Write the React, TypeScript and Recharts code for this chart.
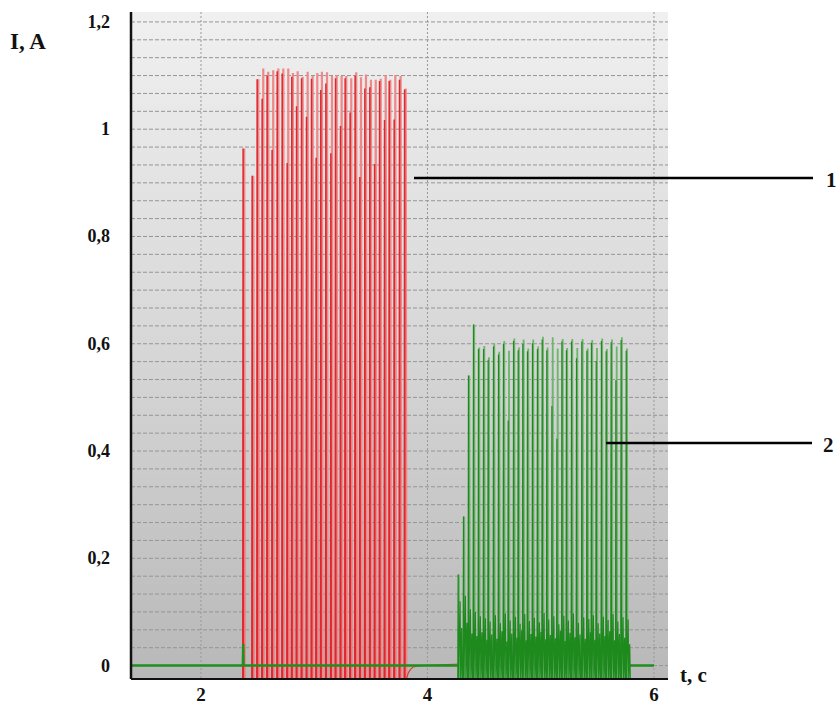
import { CartesianGrid, Line, LineChart, XAxis, YAxis } from "recharts";

// time (s) of each red pulse and its peak current (A)
const RED_T = [
  2.382, 2.462, 2.506, 2.55, 2.594, 2.638, 2.683, 2.727, 2.771, 2.812, 2.854, 2.898, 2.942, 2.986, 3.027, 3.068,
  3.113, 3.157, 3.198, 3.242, 3.283, 3.327, 3.371, 3.413, 3.457, 3.501, 3.543, 3.587, 3.631, 3.672, 3.716, 3.763,
  3.808,
];
const RED_PEAK = [
  0.964, 0.913, 1.093, 1.113, 1.107, 1.11, 1.113, 1.113, 1.113, 1.105, 1.108, 1.098, 1.107, 1.099, 1.105, 1.107,
  1.106, 1.099, 1.101, 1.099, 1.099, 1.095, 1.106, 1.097, 1.102, 1.092, 1.092, 1.094, 1.101, 1.092, 1.101, 1.099,
  1.076,
];
const RED_SUB = [
  0.964, 0.913, 1.093, 1.057, 1.1, 0.961, 1.108, 1.104, 0.937, 1.098, 1.043, 1.095, 1.023, 1.094, 0.947, 1.073,
  1.085, 0.955, 1.095, 1.006, 1.095, 1.031, 1.1, 0.911, 1.076, 1.078, 0.935, 1.09, 1.017, 1.09, 1.018, 1.092,
  1.074,
];
const RED_TAIL_T = [3.814, 3.83, 3.85, 3.87, 3.9, 3.95, 4.05, 4.3, 4.6, 4.9, 5.2, 5.5, 5.8];
const RED_TAIL_V = [-0.025, -0.014, -0.007, -0.003, -0.001, 0, 0.001, 0.003, 0.002, 0.004, 0.002, 0.003, 0.001];

// green pulses
const GREEN_T = [
  4.278, 4.325, 4.369, 4.413, 4.457, 4.502, 4.543, 4.59, 4.634, 4.678, 4.72, 4.767, 4.808, 4.849, 4.89, 4.934,
  4.978, 5.02, 5.061, 5.106, 5.15, 5.194, 5.234, 5.279, 5.323, 5.37, 5.415, 5.455, 5.497, 5.543, 5.585, 5.629,
  5.671, 5.717, 5.762,
];
const GREEN_PEAK = [
  0.17, 0.278, 0.541, 0.636, 0.593, 0.596, 0.575, 0.6, 0.585, 0.605, 0.587, 0.61, 0.593, 0.608, 0.591, 0.608,
  0.595, 0.613, 0.593, 0.612, 0.591, 0.609, 0.592, 0.609, 0.592, 0.609, 0.591, 0.607, 0.592, 0.61, 0.59, 0.608,
  0.595, 0.612, 0.591,
];
const GREEN_SUB = [
  0.17, 0.278, 0.541, 0.636, 0.59, 0.59, 0.57, 0.595, 0.58, 0.6, 0.457, 0.605, 0.588, 0.6, 0.586, 0.601,
  0.59, 0.608, 0.588, 0.484, 0.423, 0.604, 0.588, 0.604, 0.573, 0.604, 0.587, 0.602, 0.568, 0.605, 0.586, 0.603,
  0.532, 0.607, 0.587,
];
const GREEN_LOW_A = [
  0.12, 0.13, 0.105, 0.1, 0.092, 0.088, 0.082, 0.094, 0.079, 0.097, 0.084, 0.091, 0.078, 0.096, 0.083, 0.089,
  0.081, 0.098, 0.086, 0.092, 0.077, 0.093, 0.084, 0.097, 0.08, 0.09, 0.087, 0.094, 0.079, 0.091, 0.085, 0.096,
  0.082, 0.09, 0.086,
];
const GREEN_LOW_B = [
  0.07, 0.08, 0.06, 0.055, 0.062, 0.048, 0.058, 0.05, 0.064, 0.045, 0.06, 0.052, 0.066, 0.047, 0.059, 0.054,
  0.063, 0.049, 0.057, 0.051, 0.065, 0.046, 0.061, 0.053, 0.058, 0.05, 0.062, 0.048, 0.06, 0.055, 0.064, 0.047,
  0.059, 0.052, 0.04,
];
const BASE_T = [1.385, 2.37, 2.373, 2.376, 4.27, 4.271, 5.772, 6.0];
const BASE_V = [0, 0, 0.04, 0, 0, null, 0, 0];

const FLOOR = -0.025;
const X_DOMAIN: [number, number] = [1.382, 6.124];
const Y_DOMAIN: [number, number] = [-0.025, 1.2185];
const X_TICKS = [2, 4, 6];
const Y_TICKS = [0, 0.2, 0.4, 0.6, 0.8, 1, 1.2];

type Row = { t: number; v: number | null };

const redLight: Row[] = RED_T.flatMap((t, i) => [
  { t: t - 0.006, v: FLOOR },
  { t, v: RED_PEAK[i] },
  { t: t + 0.006, v: FLOOR },
]);
const redDark: Row[] = RED_T.flatMap((t, i) => [
  { t: t - 0.013, v: FLOOR },
  { t: t - 0.01, v: RED_SUB[i] },
  { t: t - 0.007, v: FLOOR },
]);
const redTail: Row[] = RED_TAIL_T.map((t, i) => ({ t, v: RED_TAIL_V[i] }));
const greenLight: Row[] = GREEN_T.flatMap((t, i) => [
  { t: t - 0.005, v: FLOOR },
  { t, v: GREEN_PEAK[i] },
  { t: t + 0.005, v: FLOOR },
]);
const greenDark: Row[] = GREEN_T.flatMap((t, i) => [
  { t: t - 0.01, v: FLOOR },
  { t: t - 0.007, v: GREEN_SUB[i] },
  { t: t - 0.004, v: FLOOR },
  { t: t + 0.01, v: GREEN_LOW_A[i] },
  { t: t + 0.015, v: FLOOR },
  { t: t + 0.024, v: GREEN_LOW_B[i] },
  { t: t + 0.029, v: FLOOR },
]);
const baseline: Row[] = BASE_T.map((t, i) => ({ t, v: BASE_V[i] }));

// fine horizontal grid: 1/30 A steps
const hGrid = Array.from({ length: 37 }, (_, i) => i / 30);
const FONT = "Liberation Serif, Times New Roman, DejaVu Serif, serif";

function YTick({ x, y, payload }: any) {
  return (
    <text x={x - 13} y={y} textAnchor="end" dominantBaseline="central" fontSize={18} fontWeight={700} fill="#111" fontFamily={FONT}>
      {String(payload.value).replace(".", ",")}
    </text>
  );
}

function XTick({ x, payload }: any) {
  return (
    <text x={x} y={694} textAnchor="middle" dominantBaseline="central" fontSize={19} fontWeight={700} fill="#111" fontFamily={FONT}>
      {payload.value}
    </text>
  );
}

function gridRows({ offset }: any) {
  const [lo, hi] = Y_DOMAIN;
  return hGrid.map((v) => offset.top + ((hi - v) / (hi - lo)) * offset.height);
}

export default function App() {
  return (
    <div style={{ position: "absolute", left: 0, top: 0, width: 836, height: 704, background: "#fff", fontFamily: FONT }}>
      <LineChart width={836} height={704} margin={{ top: 12, right: 168, bottom: 0, left: 0 }}>
        <defs>
          <linearGradient id="bg" x1="0" y1="0" x2="0" y2="1">
            <stop offset="0%" stopColor="#f0f0f0" />
            <stop offset="50%" stopColor="#d7d7d7" />
            <stop offset="100%" stopColor="#b8b8b8" />
          </linearGradient>
        </defs>
        <CartesianGrid
          fill="url(#bg)"
          fillOpacity={1}
          vertical={false}
          horizontalCoordinatesGenerator={gridRows}
          stroke="#959595"
          strokeDasharray="4 2"
        />
        <CartesianGrid horizontal={false} verticalValues={X_TICKS} stroke="#999" strokeDasharray="2 2" />
        <XAxis
          dataKey="t"
          type="number"
          domain={X_DOMAIN}
          ticks={X_TICKS}
          allowDataOverflow
          height={25}
          tickLine={false}
          axisLine={{ stroke: "#111", strokeWidth: 2 }}
          tick={<XTick />}
        />
        <YAxis
          type="number"
          domain={Y_DOMAIN}
          ticks={Y_TICKS}
          allowDataOverflow
          width={131}
          tickLine={false}
          axisLine={{ stroke: "#111", strokeWidth: 2.5 }}
          tick={<YTick />}
        />
        <Line data={redLight} dataKey="v" stroke="#ef8888" strokeWidth={2.2} dot={false} isAnimationActive={false} />
        <Line data={redDark} dataKey="v" stroke="#e0262e" strokeWidth={1.5} dot={false} isAnimationActive={false} />
        <Line data={redTail} dataKey="v" stroke="#d2452a" strokeWidth={1.2} dot={false} isAnimationActive={false} />
        <Line data={greenLight} dataKey="v" stroke="#6db56d" strokeWidth={1.8} dot={false} isAnimationActive={false} />
        <Line data={greenDark} dataKey="v" stroke="#1e8a1e" strokeWidth={1.2} dot={false} isAnimationActive={false} />
        <Line data={baseline} dataKey="v" stroke="#1f8f1f" strokeWidth={2.5} dot={false} isAnimationActive={false} />
      </LineChart>
      <svg width={836} height={704} style={{ position: "absolute", left: 0, top: 0, pointerEvents: "none" }}>
        <text x={10} y={49} fontSize={23} fontWeight={700} fill="#111" fontFamily={FONT}>
          I, A
        </text>
        <text x={680} y={682} fontSize={21} fontWeight={700} fill="#111" fontFamily={FONT}>
          t, c
        </text>
        <line x1={414} y1={178} x2={813} y2={178} stroke="#000" strokeWidth={2.5} />
        <text x={826} y={180} dominantBaseline="central" fontSize={21} fontWeight={700} fill="#111" fontFamily={FONT}>
          1
        </text>
        <line x1={606} y1={443} x2={812} y2={443} stroke="#000" strokeWidth={2.5} />
        <text x={823} y={445} dominantBaseline="central" fontSize={21} fontWeight={700} fill="#111" fontFamily={FONT}>
          2
        </text>
      </svg>
    </div>
  );
}
